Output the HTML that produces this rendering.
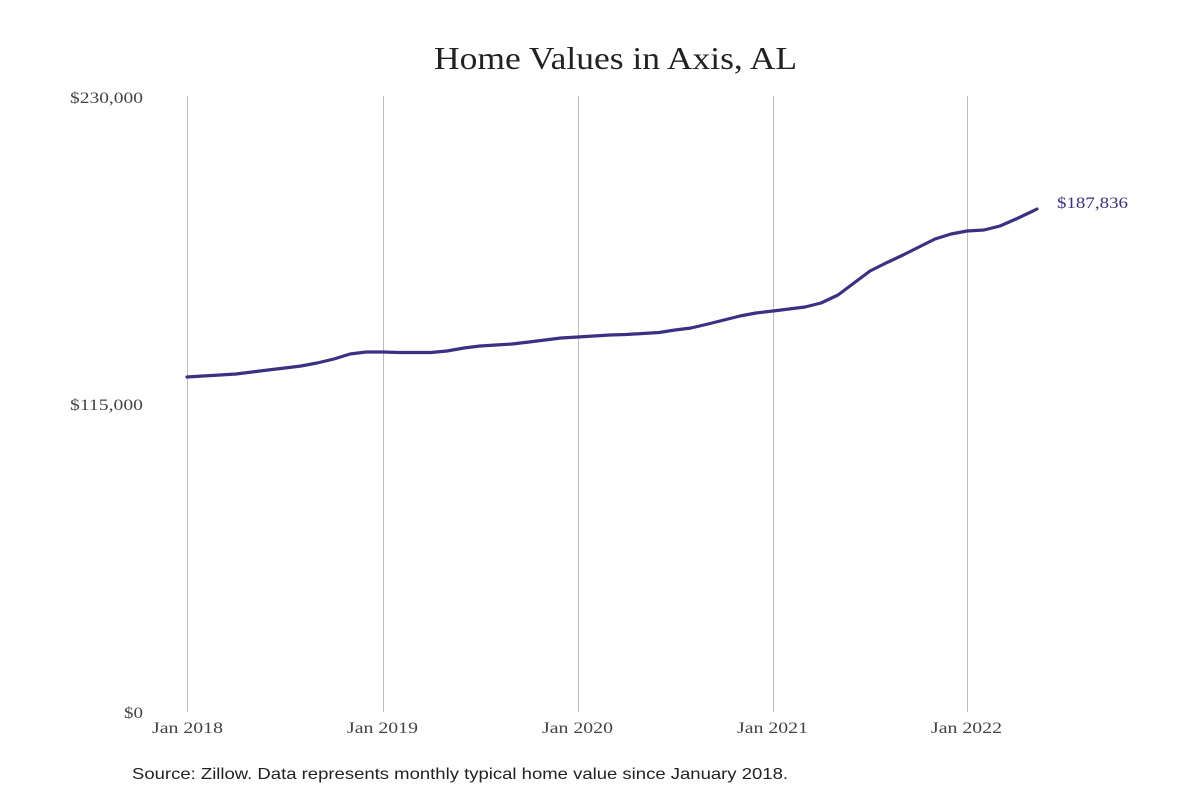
<!DOCTYPE html>
<html><head><meta charset="utf-8"><style>
html,body{margin:0;padding:0;background:#fff;}
svg{display:block;}
</style></head><body>
<svg width="1200" height="800" xmlns="http://www.w3.org/2000/svg">
<rect width="1200" height="800" fill="#fff"/>
<text x="434" y="69" textLength="363" lengthAdjust="spacingAndGlyphs" font-family="Liberation Serif, serif" font-size="32" fill="#222">Home Values in Axis, AL</text>
<g stroke="#bdbdbd" stroke-width="1">
<line x1="187.5" y1="96" x2="187.5" y2="712"/>
<line x1="383.5" y1="96" x2="383.5" y2="712"/>
<line x1="578.5" y1="96" x2="578.5" y2="712"/>
<line x1="773.5" y1="96" x2="773.5" y2="712"/>
<line x1="967.5" y1="96" x2="967.5" y2="712"/>
</g>
<g font-family="Liberation Serif, serif" font-size="16" fill="#444">
<text x="70" y="103" textLength="73" lengthAdjust="spacingAndGlyphs">$230,000</text>
<text x="70" y="410" textLength="73" lengthAdjust="spacingAndGlyphs">$115,000</text>
<text x="124" y="718" textLength="19" lengthAdjust="spacingAndGlyphs">$0</text>
</g>
<g font-family="Liberation Serif, serif" font-size="16" fill="#444">
<text x="152" y="733" textLength="71" lengthAdjust="spacingAndGlyphs">Jan 2018</text>
<text x="347" y="733" textLength="71" lengthAdjust="spacingAndGlyphs">Jan 2019</text>
<text x="542" y="733" textLength="71" lengthAdjust="spacingAndGlyphs">Jan 2020</text>
<text x="737" y="733" textLength="71" lengthAdjust="spacingAndGlyphs">Jan 2021</text>
<text x="931" y="733" textLength="71" lengthAdjust="spacingAndGlyphs">Jan 2022</text>
</g>
<polyline fill="none" stroke="#3a3185" stroke-width="3.2" stroke-linejoin="round" stroke-linecap="round" points="187,377 203,376 220,375 236,374 252,372 268,370 285,368 301,366 317,363 334,359 350,354 366,352 383,352 399,352.5 415,352.5 431,352.5 447,351 464,348 480,346 496,345 512,344 529,342 545,340 561,338 578,337 594,336 610,335 626,334.5 643,333.5 659,332.5 675,330 691,328 708,324 724,320 740,316 756,313 773,311 789,309 805,307 821,303 838,295 854,283 870,271 886,263 903,255 919,247 935,239 951,234 967,231 984,230 1000,226 1016,219 1033,211 1037,209"/>
<text x="1057" y="208" textLength="71" lengthAdjust="spacingAndGlyphs" font-family="Liberation Serif, serif" font-size="16" fill="#3a3185">$187,836</text>
<text x="132" y="779" textLength="656" lengthAdjust="spacingAndGlyphs" font-family="Liberation Sans, sans-serif" font-size="16" fill="#222">Source: Zillow. Data represents monthly typical home value since January 2018.</text>
</svg>
</body></html>
